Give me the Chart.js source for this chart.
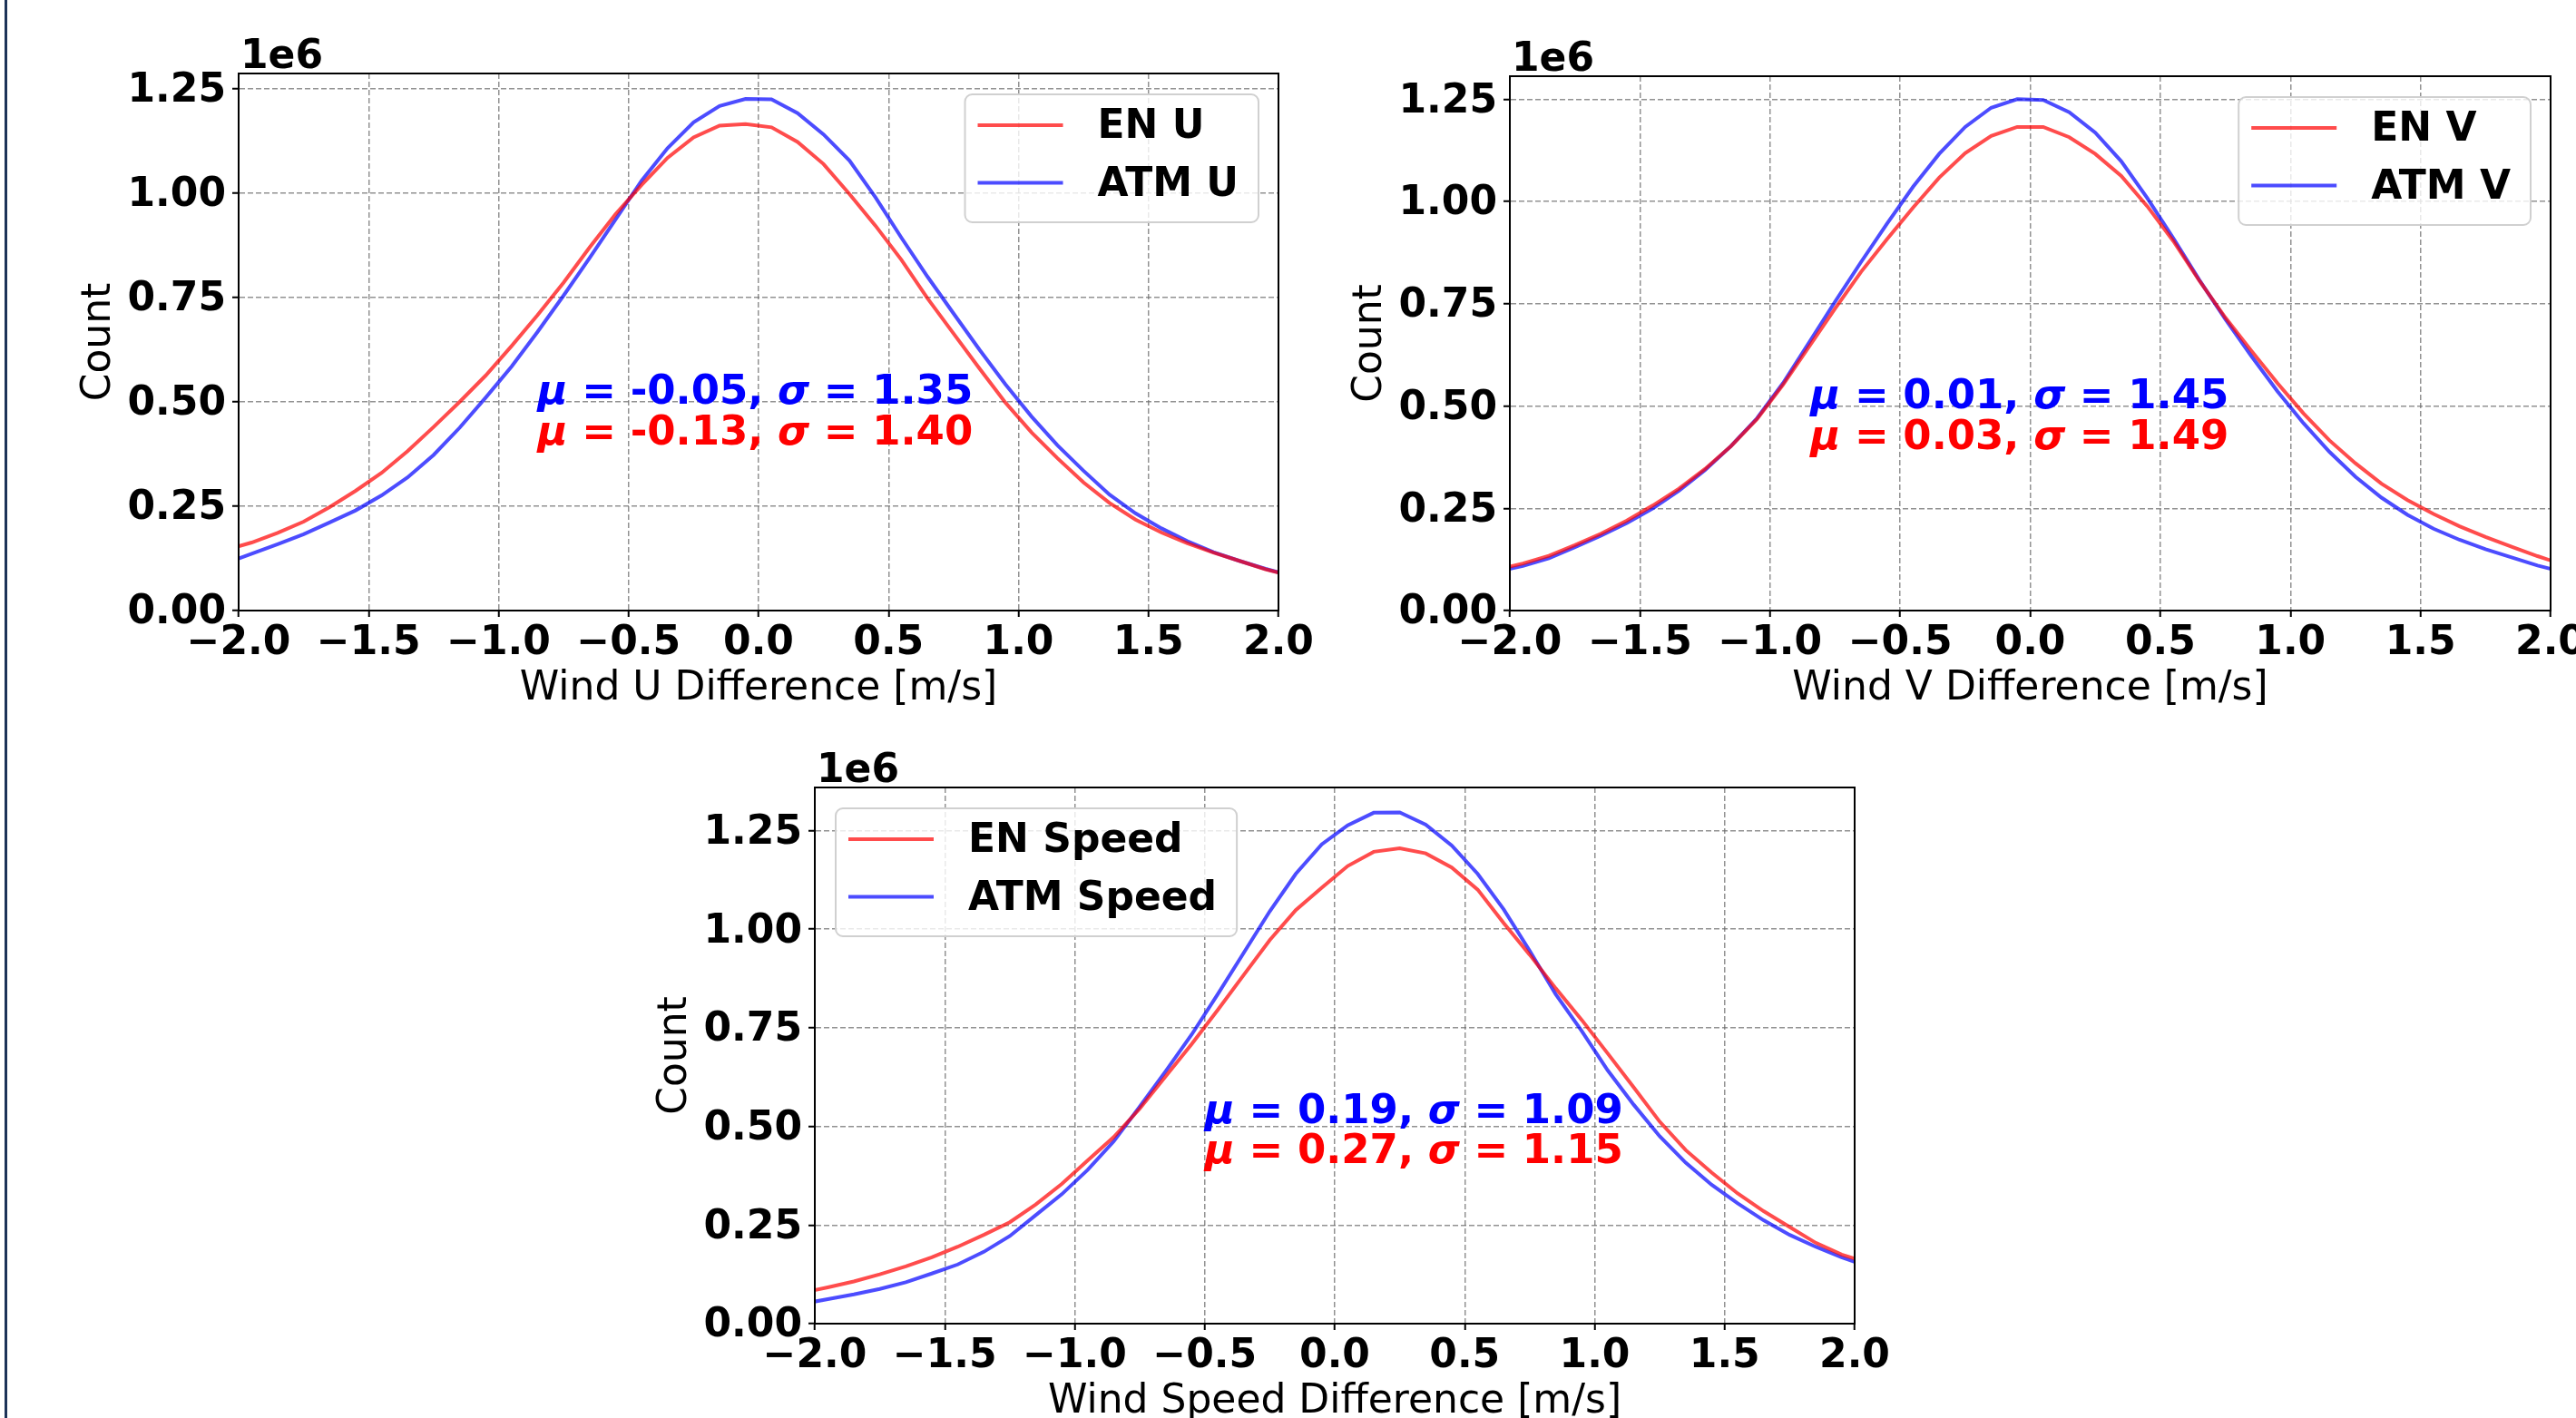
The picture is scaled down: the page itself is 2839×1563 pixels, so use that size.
<!DOCTYPE html>
<html>
<head>
<meta charset="utf-8">
<script src="https://cdn.jsdelivr.net/npm/chart.js@4.4.0/dist/chart.umd.min.js"></script>
<style>
  html, body { margin: 0; padding: 0; background: #fff; overflow: hidden; }
  body { width: 2839px; height: 1563px; position: relative; }
  .edge { position: absolute; left: 5px; top: 0; width: 3px; height: 1563px; background: #1d3358; }
  canvas { position: absolute; }
</style>
</head>
<body>
<div class="edge"></div>
<canvas id="chartU"></canvas>
<canvas id="chartV"></canvas>
<canvas id="chartSpeed"></canvas>
<script>
// bin centres of the difference histograms [m/s]
const binCenters = [
  -2.05, -1.95, -1.85, -1.75, -1.65, -1.55, -1.45, -1.35, -1.25, -1.15, -1.05,
  -0.95, -0.85, -0.75, -0.65, -0.55, -0.45, -0.35, -0.25, -0.15, -0.05,
  0.05, 0.15, 0.25, 0.35, 0.45, 0.55, 0.65, 0.75, 0.85, 0.95,
  1.05, 1.15, 1.25, 1.35, 1.45, 1.55, 1.65, 1.75, 1.85, 1.95, 2.05
];

// counts, in units of 1e6
const enU = [
  0.145, 0.163, 0.186, 0.213, 0.248, 0.287, 0.330, 0.382, 0.440, 0.500, 0.563,
  0.634, 0.708, 0.786, 0.870, 0.950, 1.020, 1.085, 1.134, 1.162, 1.166,
  1.158, 1.123, 1.070, 0.998, 0.922, 0.840, 0.748, 0.664, 0.580, 0.498,
  0.427, 0.365, 0.307, 0.258, 0.218, 0.187, 0.161, 0.139, 0.119, 0.099, 0.083
];
const atmU = [
  0.113, 0.136, 0.159, 0.183, 0.211, 0.240, 0.276, 0.319, 0.373, 0.438, 0.510,
  0.585, 0.668, 0.755, 0.845, 0.937, 1.030, 1.108, 1.170, 1.209, 1.226,
  1.225, 1.192, 1.141, 1.078, 0.990, 0.893, 0.800, 0.712, 0.625, 0.542,
  0.465, 0.396, 0.335, 0.278, 0.233, 0.197, 0.166, 0.140, 0.119, 0.100, 0.083
];
const enV = [
  0.100, 0.115, 0.134, 0.160, 0.188, 0.220, 0.257, 0.298, 0.346, 0.402, 0.468,
  0.552, 0.645, 0.738, 0.828, 0.908, 0.985, 1.058, 1.118, 1.160, 1.182,
  1.182, 1.157, 1.116, 1.062, 0.988, 0.903, 0.806, 0.716, 0.635, 0.556,
  0.482, 0.416, 0.360, 0.310, 0.270, 0.236, 0.206, 0.180, 0.156, 0.133, 0.112
];
const atmV = [
  0.095, 0.109, 0.128, 0.155, 0.183, 0.214, 0.250, 0.293, 0.343, 0.402, 0.470,
  0.556, 0.655, 0.755, 0.852, 0.946, 1.036, 1.116, 1.182, 1.229, 1.250,
  1.248, 1.218, 1.168, 1.098, 1.008, 0.910, 0.808, 0.712, 0.622, 0.536,
  0.458, 0.388, 0.327, 0.276, 0.234, 0.200, 0.173, 0.150, 0.130, 0.110, 0.094
];
const enSpeed = [
  0.078, 0.092, 0.107, 0.125, 0.145, 0.168, 0.195, 0.225, 0.257, 0.302, 0.354,
  0.414, 0.473, 0.545, 0.627, 0.709, 0.795, 0.884, 0.972, 1.048, 1.105,
  1.160, 1.196, 1.205, 1.192, 1.156, 1.100, 1.015, 0.935, 0.850, 0.770,
  0.685, 0.599, 0.512, 0.440, 0.383, 0.330, 0.285, 0.245, 0.205, 0.175, 0.155
];
const atmSpeed = [
  0.050, 0.062, 0.074, 0.088, 0.105, 0.127, 0.150, 0.182, 0.222, 0.275, 0.328,
  0.390, 0.462, 0.550, 0.640, 0.733, 0.835, 0.940, 1.045, 1.140, 1.215,
  1.263, 1.295, 1.296, 1.265, 1.212, 1.140, 1.050, 0.945, 0.835, 0.742,
  0.642, 0.555, 0.475, 0.408, 0.352, 0.305, 0.262, 0.225, 0.195, 0.168, 0.145
];

const xTicksMin = -2;
const xTicksMax = 2;
const xTickStep = 0.5;
const yTickStep = 0.25;

const FONT = '"DejaVu Sans", sans-serif';
const RED = 'rgba(255, 0, 0, 0.7)';
const BLUE = 'rgba(0, 0, 255, 0.7)';

// room left of / under the plot area, inside each canvas
const Y_AXIS_W = 220;
const X_AXIS_H = 120;
const PAD_TOP = 80;
const PAD_RIGHT = 60;

const panels = [
  {
    id: 'chartU', plot: { left: 263, top: 81, width: 1146, height: 592 }, yMax: 1.287,
    labels: ['EN U', 'ATM U'], en: enU, atm: atmU,
    xTitle: 'Wind U Difference [m/s]', legendCorner: 'ne',
    notes: [
      { x: -0.85, y: 0.52, color: 'blue', mu: '-0.05', sigma: '1.35' },
      { x: -0.85, y: 0.423, color: 'red', mu: '-0.13', sigma: '1.40' }
    ]
  },
  {
    id: 'chartV', plot: { left: 1664, top: 84, width: 1147, height: 589 }, yMax: 1.306,
    labels: ['EN V', 'ATM V'], en: enV, atm: atmV,
    xTitle: 'Wind V Difference [m/s]', legendCorner: 'ne',
    notes: [
      { x: -0.845, y: 0.52, color: 'blue', mu: '0.01', sigma: '1.45' },
      { x: -0.845, y: 0.421, color: 'red', mu: '0.03', sigma: '1.49' }
    ]
  },
  {
    id: 'chartSpeed', plot: { left: 898, top: 868, width: 1146, height: 591 }, yMax: 1.359,
    labels: ['EN Speed', 'ATM Speed'], en: enSpeed, atm: atmSpeed,
    xTitle: 'Wind Speed Difference [m/s]', legendCorner: 'nw',
    notes: [
      { x: -0.5, y: 0.535, color: 'blue', mu: '0.19', sigma: '1.09' },
      { x: -0.5, y: 0.435, color: 'red', mu: '0.27', sigma: '1.15' }
    ]
  }
];

function drawNote(ctx, chart, note) {
  const px = chart.scales.x.getPixelForValue(note.x);
  const py = chart.scales.y.getPixelForValue(note.y);
  const parts = [
    ['\u03bc', true], [' = ' + note.mu + ', ', false],
    ['\u03c3', true], [' = ' + note.sigma, false]
  ];
  let x = px;
  ctx.fillStyle = note.color;
  ctx.textAlign = 'left';
  ctx.textBaseline = 'middle';
  parts.forEach(([text, italic]) => {
    ctx.font = (italic ? 'italic ' : '') + 'bold 45px ' + FONT;
    ctx.fillText(text, x, py);
    x += ctx.measureText(text).width;
  });
}

function drawLegend(ctx, chart, corner) {
  const a = chart.chartArea;
  const sets = chart.data.datasets;
  ctx.font = 'bold 44px ' + FONT;
  const textW = Math.max(...sets.map(d => ctx.measureText(d.label).width));
  const boxW = 146 + textW + 22;
  const boxH = 141;
  const boxX = corner === 'ne' ? a.right - 22 - boxW : a.left + 23;
  const boxY = a.top + 23;

  ctx.beginPath();
  ctx.roundRect(boxX, boxY, boxW, boxH, 8);
  ctx.fillStyle = 'rgba(255, 255, 255, 0.8)';
  ctx.fill();
  ctx.strokeStyle = '#d0d0d0';
  ctx.lineWidth = 2;
  ctx.stroke();

  sets.forEach((d, i) => {
    const y = boxY + 34 + i * 63.5;
    ctx.beginPath();
    ctx.moveTo(boxX + 14, y);
    ctx.lineTo(boxX + 108, y);
    ctx.strokeStyle = d.borderColor;
    ctx.lineWidth = 4;
    ctx.stroke();
    ctx.fillStyle = '#000';
    ctx.textAlign = 'left';
    ctx.textBaseline = 'middle';
    ctx.fillText(d.label, boxX + 146, y + 3);
  });
}

function figurePlugin(panel) {
  return {
    id: 'figure',
    afterDraw(chart) {
      const { ctx, chartArea: a } = chart;
      ctx.save();
      ctx.setLineDash([]);
      ctx.strokeStyle = '#000';
      ctx.lineWidth = 2;
      ctx.strokeRect(a.left, a.top, a.right - a.left, a.bottom - a.top);

      ctx.fillStyle = '#000';
      ctx.font = 'bold 44px ' + FONT;
      ctx.textAlign = 'left';
      ctx.textBaseline = 'alphabetic';
      ctx.fillText('1e6', a.left + 2, a.top - 6);

      panel.notes.forEach(n => drawNote(ctx, chart, n));
      drawLegend(ctx, chart, panel.legendCorner);
      ctx.restore();
    }
  };
}

function axisLook() {
  return {
    grid: {
      color: 'rgba(110, 110, 110, 0.75)',
      lineWidth: 1.5,
      drawTicks: true,
      tickLength: 7,
      tickColor: '#000',
      tickWidth: 2
    },
    border: { display: true, color: '#000', width: 2, dash: [6, 3] }
  };
}

function makeChart(panel) {
  const canvas = document.getElementById(panel.id);
  const w = panel.plot.width + Y_AXIS_W + PAD_RIGHT;
  const h = panel.plot.height + PAD_TOP + X_AXIS_H;
  canvas.width = w;
  canvas.height = h;
  canvas.style.width = w + 'px';
  canvas.style.height = h + 'px';
  canvas.style.left = (panel.plot.left - Y_AXIS_W) + 'px';
  canvas.style.top = (panel.plot.top - PAD_TOP) + 'px';

  const series = values => binCenters.map((x, i) => ({ x: x, y: values[i] }));
  const tickFont = { family: FONT, size: 44, weight: 'bold', lineHeight: 1.2 };
  const titleFont = { family: FONT, size: 44, weight: 'normal', lineHeight: 1.2 };

  new Chart(canvas, {
    type: 'line',
    data: {
      datasets: [
        { label: panel.labels[0], data: series(panel.en), borderColor: RED, borderWidth: 4, pointRadius: 0, tension: 0, fill: false, clip: 0 },
        { label: panel.labels[1], data: series(panel.atm), borderColor: BLUE, borderWidth: 4, pointRadius: 0, tension: 0, fill: false, clip: 0 }
      ]
    },
    options: {
      responsive: false,
      animation: false,
      devicePixelRatio: 1,
      events: [],
      layout: { padding: { left: 0, top: PAD_TOP, right: PAD_RIGHT, bottom: 0 } },
      plugins: {
        legend: { display: false },
        tooltip: { enabled: false }
      },
      scales: {
        x: {
          type: 'linear',
          min: xTicksMin,
          max: xTicksMax,
          afterFit: scale => { scale.height = X_AXIS_H; },
          ticks: {
            stepSize: xTickStep,
            autoSkip: false,
            maxRotation: 0,
            padding: 3,
            color: '#000',
            font: tickFont,
            callback: v => (v < 0 ? '\u2212' : '') + Math.abs(v).toFixed(1)
          },
          title: { display: true, text: panel.xTitle, color: '#000', font: titleFont, padding: { top: 0, bottom: 7 } },
          ...axisLook()
        },
        y: {
          type: 'linear',
          min: 0,
          max: panel.yMax,
          afterFit: scale => { scale.width = Y_AXIS_W; },
          ticks: {
            stepSize: yTickStep,
            includeBounds: false,
            padding: 7,
            labelOffset: 3,
            color: '#000',
            font: tickFont,
            callback: v => v.toFixed(2)
          },
          title: { display: true, text: 'Count', color: '#000', font: titleFont, padding: { top: 40, bottom: 0 } },
          ...axisLook()
        }
      }
    },
    plugins: [figurePlugin(panel)]
  });
}

panels.forEach(makeChart);
</script>
</body>
</html>
